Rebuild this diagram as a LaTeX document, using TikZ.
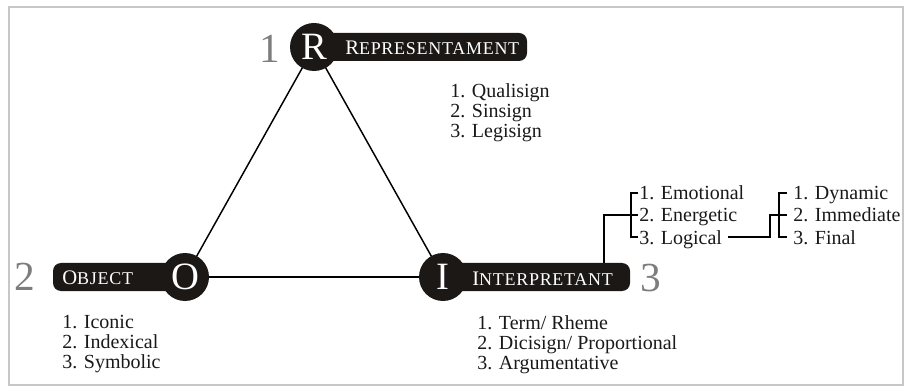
\documentclass[tikz,border=0pt]{standalone}
\usepackage{fontspec}
\setmainfont{Liberation Serif}
\newfontfamily\capsfont[LetterSpace=4]{Liberation Serif}
\definecolor{barcol}{RGB}{28,24,22}
\definecolor{numcol}{RGB}{125,125,125}
\definecolor{txtcol}{RGB}{25,25,25}
\begin{document}
\begin{tikzpicture}[x=0.75pt,y=-0.75pt,
  conn/.style={line width=1.1pt, black},
  hub/.style={circle, fill=barcol, text=white, minimum size=36pt, inner sep=0pt,
    font=\fontsize{29}{29}\selectfont},
  bar/.style={rectangle, fill=barcol, rounded corners=6pt, minimum height=21pt, inner sep=0pt},
  barlabel/.style={text=white, inner sep=0pt, anchor=west, font=\capsfont\fontsize{13.5}{14}\selectfont},
  num/.style={text=numcol, inner sep=0pt, font=\fontsize{31}{31}\selectfont},
  item/.style={text=txtcol, inner sep=0pt, anchor=base west, font=\fontsize{15}{16}\selectfont}]
\useasboundingbox (0,0) rectangle (906,388);
\draw[black!22, line width=0.8pt] (9,7) rectangle (903,385);

% bars
\node[bar, minimum width=213*0.75pt] (rbar) at (420.5,47) {};
\node[bar, minimum width=132*0.75pt] (obar) at (119,277) {};
\node[bar, minimum width=187*0.75pt] (ibar) at (536.5,277) {};

% triangle connectors (behind circles)
\coordinate (Rc) at (314,47);
\coordinate (Oc) at (185,277);
\coordinate (Ic) at (443,277);
\draw[conn] (Rc) -- (Oc);
\draw[conn] (Rc) -- (Ic);
\draw[conn] (Oc) -- (Ic);

% hubs
\node[hub] (R) at (Rc) {R};
\node[hub] (O) at (Oc) {O};
\node[hub] (I) at (Ic) {I};

% bar labels
\node[barlabel] (rlab) at (345,48) {{\fontsize{15.5}{16}\selectfont R}EPRESENTAMENT};
\node[barlabel] (olab) at (62,278) {{\fontsize{15.5}{16}\selectfont O}BJECT};
\node[barlabel] (ilab) at (472,279) {{\fontsize{15.5}{16}\selectfont I}NTERPRETANT};

% numbers
\node[num] (n1) at (270,49) {1};
\node[num] (n2) at (25,277) {2};
\node[num] (n3) at (651,278) {3};

% lists
\node[item] (q1) at (450,98) {1. Qualisign};
\node[item] (q2) at (450,118) {2. Sinsign};
\node[item] (q3) at (450,138) {3. Legisign};

\node[item] (o1) at (62,328) {1. Iconic};
\node[item] (o2) at (62,348) {2. Indexical};
\node[item] (o3) at (62,368) {3. Symbolic};

\node[item] (i1) at (477,329) {1. Term/ Rheme};
\node[item] (i2) at (477,349) {2. Dicisign/ Proportional};
\node[item] (i3) at (477,369) {3. Argumentative};

\node[item] (e1) at (639,200) {1. Emotional};
\node[item] (e2) at (639,222) {2. Energetic};
\node[item] (e3) at (639,244) {3. Logical};

\node[item] (d1) at (793,200) {1. Dynamic};
\node[item] (d2) at (793,222) {2. Immediate};
\node[item] (d3) at (793,244) {3. Final};

% bracket 1
\coordinate (s1) at (604,215);
\draw[conn] (638,193) -- (631,193) -- (631,237) -- (638,237);
\draw[conn] (s1 |- ibar.north) -- (s1) -- (638,215);

% bracket 2
\coordinate (l3) at (728,237);
\coordinate (s2) at (770,215);
\draw[conn] (787,193) -- (779,193) -- (779,237) -- (787,237);
\draw[conn] (l3) -- (s2 |- l3) -- (s2) -- (787,215);
\end{tikzpicture}
\end{document}
